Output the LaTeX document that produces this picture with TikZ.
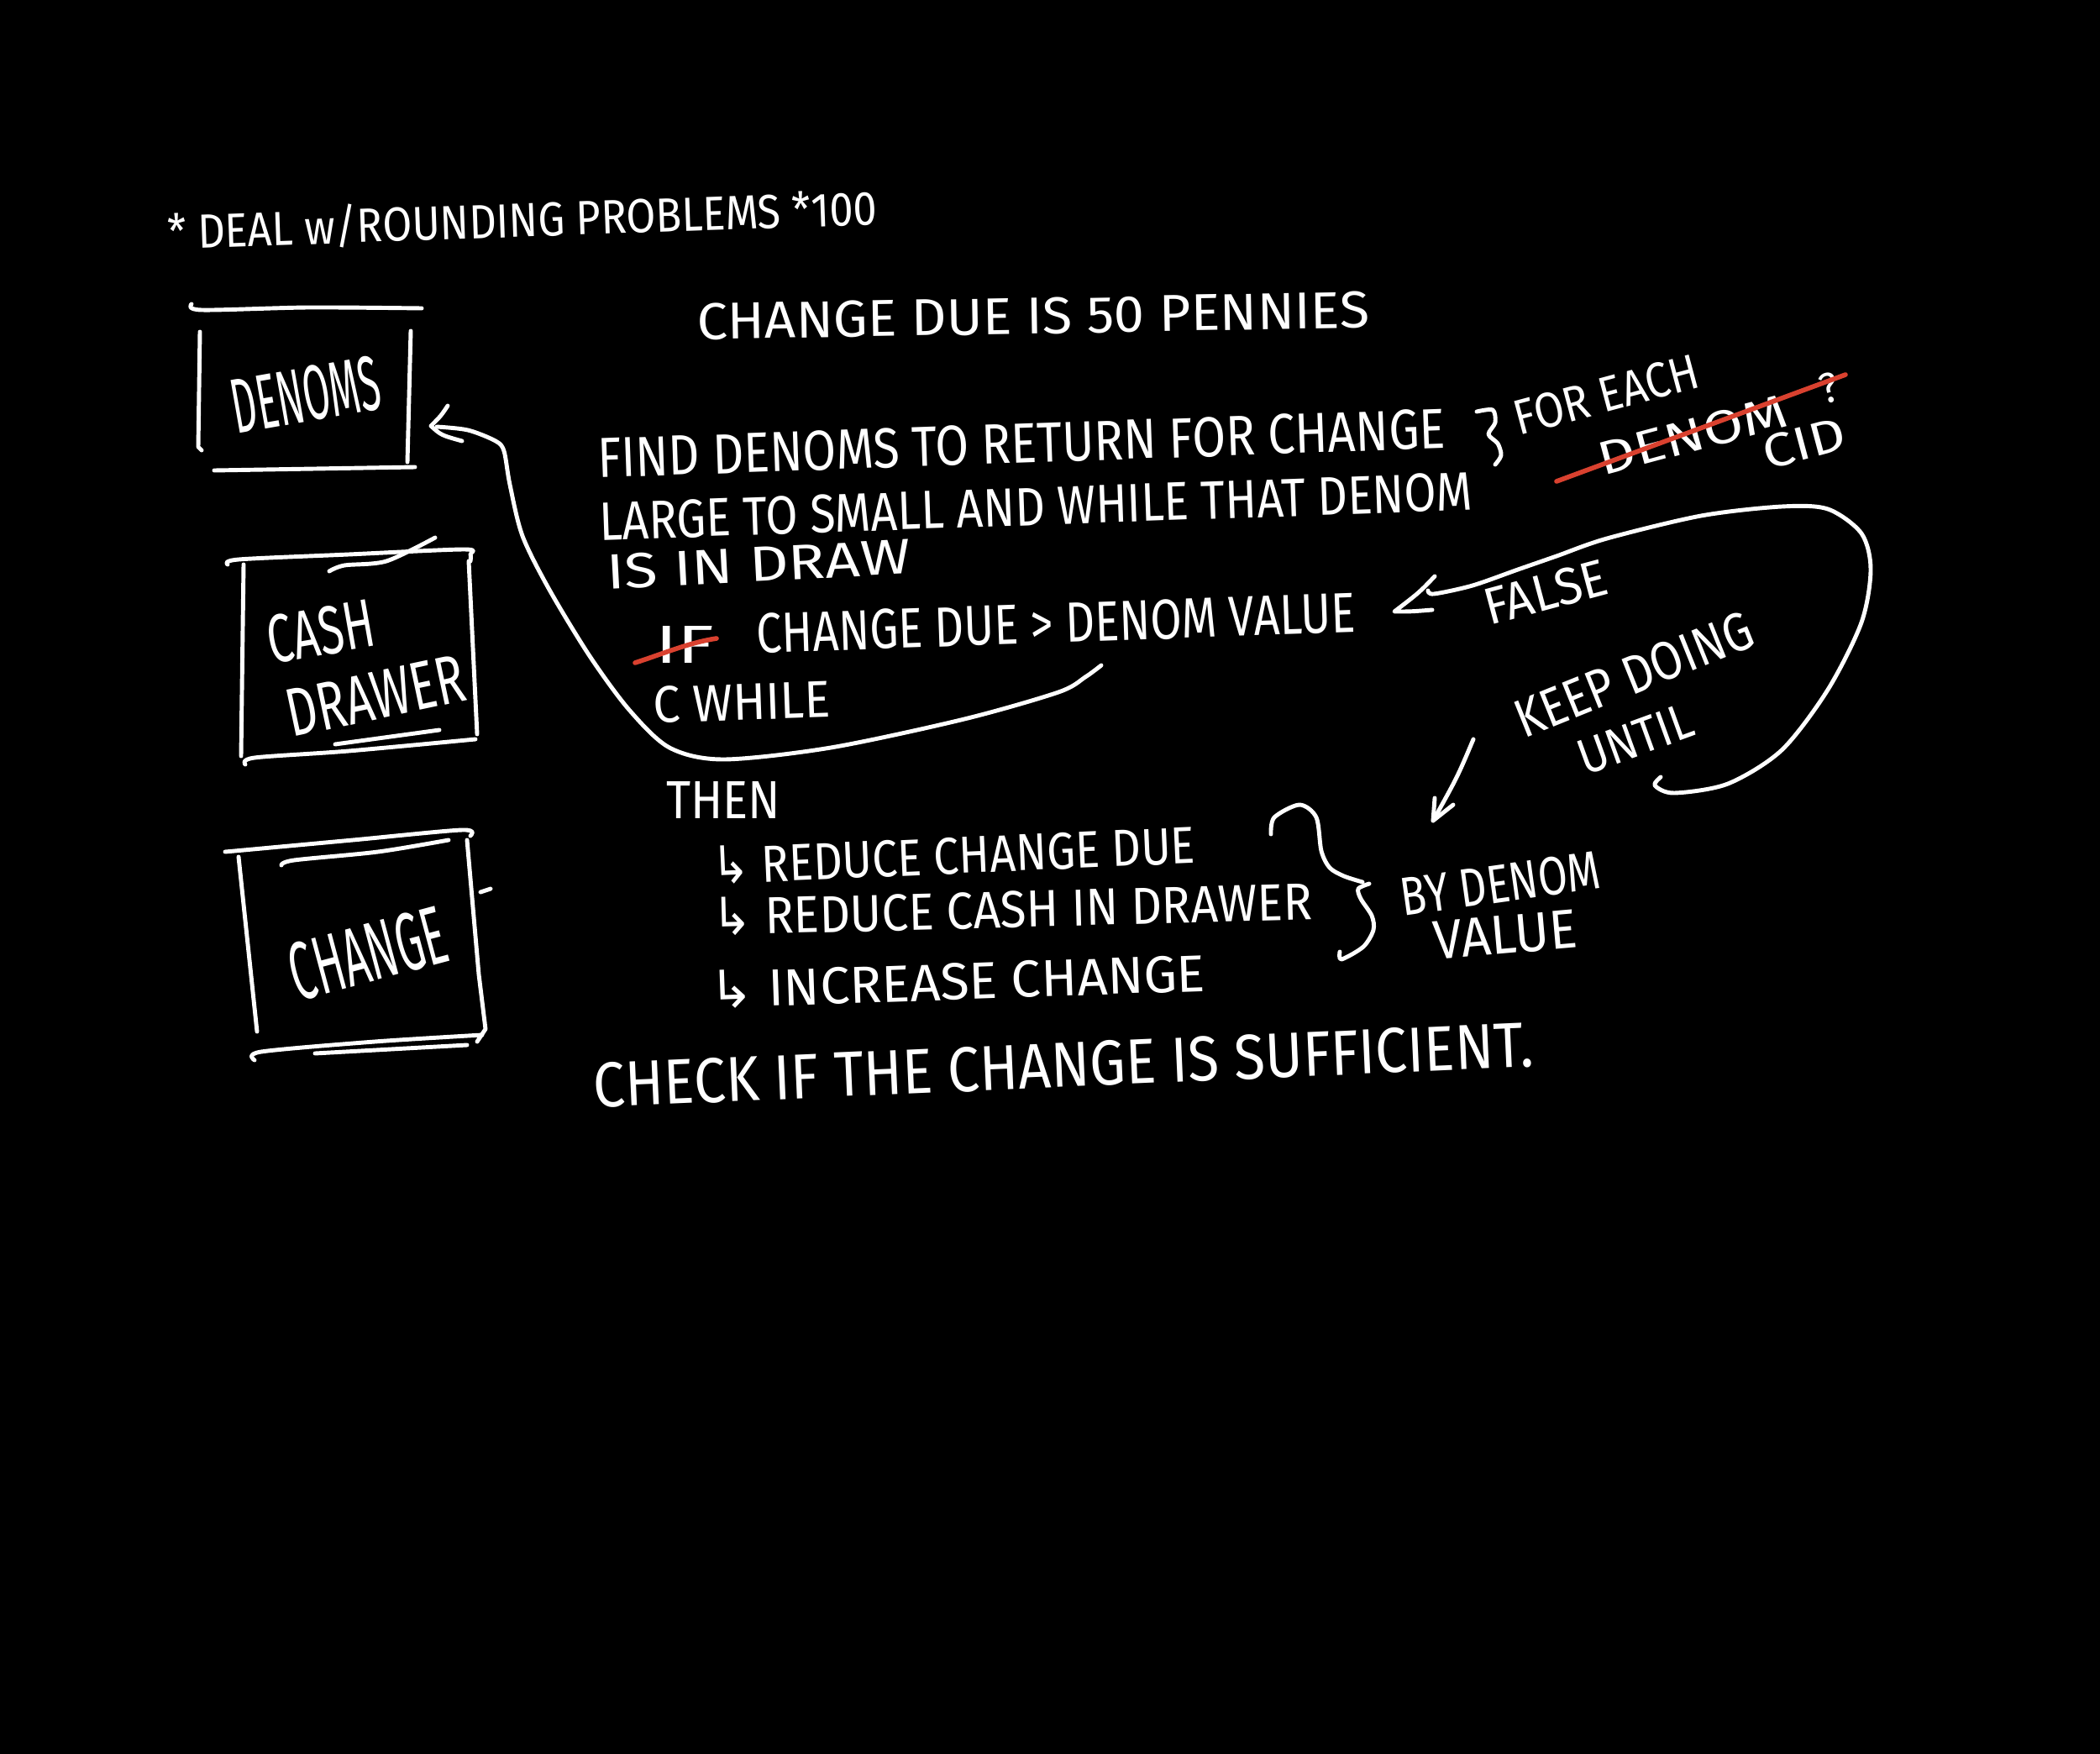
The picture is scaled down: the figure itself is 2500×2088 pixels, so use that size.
\documentclass[tikz,border=0pt]{standalone}
\usepackage{fontspec}
\setmainfont{Fira Sans}
\newfontfamily\arrowfont{DejaVu Sans}
\newlength\pxu
\setlength\pxu{0.01cm}
\newcommand\hw[3]{\resizebox*{#1\pxu}{#2\pxu}{#3}}
\newcommand\hook{{\arrowfont ↳}}
\definecolor{strikered}{HTML}{D9412F}
\begin{document}
\begin{tikzpicture}[x=0.01cm,y=-0.01cm,
  pen/.style={draw=white,line width=1.4pt,line cap=round,line join=round},
  redpen/.style={draw=strikered,line width=1.6pt,line cap=round},
  txt/.style={text=white,inner sep=0pt,outer sep=0pt}]
\fill[black] (0,0) rectangle (2500,2088);
\useasboundingbox (0,0) rectangle (2500,2088);

% ---------- texts ----------
\node[txt,rotate=2] (title) at (622,262) {\hw{845}{52}{* DEAL w/ROUNDING PROBLEMS *100}};
\node[txt,rotate=1] (due) at (1230,376) {\hw{800}{44}{CHANGE DUE IS 50 PENNIES}};
\node[txt,rotate=2] (find) at (1216,528) {\hw{1010}{48}{FIND DENOMS TO RETURN FOR CHANGE}};
\node[txt,rotate=15] (foreach) at (1912,470) {\hw{225}{42}{FOR EACH}};
\node[txt,rotate=15] (denomq) at (2015,518) {\hw{230}{40}{DENOM}};
\node[txt,rotate=15] (qmark) at (2178,462) {\hw{22}{36}{?}};
\node[txt,rotate=15] (cid) at (2148,528) {\hw{100}{40}{CID}};
\node[txt,rotate=2] (large) at (1233,603) {\hw{1040}{46}{LARGE TO SMALL AND WHILE THAT DENOM}};
\node[txt,rotate=3] (isin) at (903,672) {\hw{362}{42}{IS IN DRAW}};
\node[txt] (if) at (815,767) {\hw{70}{44}{IF}};
\node[txt,rotate=2] (cond) at (1257,742) {\hw{714}{48}{CHANGE DUE > DENOM VALUE}};
\node[txt,rotate=15] (false) at (1840,705) {\hw{150}{44}{FALSE}};
\node[txt,rotate=2] (while) at (883,836) {\hw{211}{44}{C WHILE}};
\node[txt,rotate=22] (keep) at (1945,803) {\hw{300}{46}{KEEP DOING}};
\node[txt,rotate=20] (until) at (1947,880) {\hw{142}{42}{UNTIL}};
\node[txt] (then) at (861,952) {\hw{136}{44}{THEN}};
\node[txt,rotate=2.5] (red1) at (1135,1018) {\hw{576}{46}{\hook\ REDUCE CHANGE DUE}};
\node[txt,rotate=1.5] (red2) at (1205,1082) {\hw{714}{46}{\hook\ REDUCE CASH IN DRAWER}};
\node[txt,rotate=2] (inc) at (1140,1168) {\hw{590}{46}{\hook\ INCREASE CHANGE}};
\node[txt,rotate=8] (bydenom) at (1786,1052) {\hw{239}{46}{BY DENOM}};
\node[txt,rotate=5] (value) at (1792,1113) {\hw{172}{46}{VALUE}};
\node[txt,rotate=2.5] (check) at (1266,1268) {\hw{1120}{54}{CHECK IF THE CHANGE IS SUFFICIENT.}};

% box labels
\node[txt,rotate=10] (denoms) at (364,470) {\hw{178}{66}{DENOMS}};
\node[txt,rotate=10] (cash) at (382,752) {\hw{128}{58}{CASH}};
\node[txt,rotate=12] (drawer) at (447,828) {\hw{215}{56}{DRAWER}};
\node[txt,rotate=15] (change) at (438,1135) {\hw{190}{70}{CHANGE}};

% ---------- red strikes ----------
\draw[redpen] (756,789) .. controls (790,778) and (820,765) .. (853,760);
\draw[redpen] (1853,573) -- (2197,446);

% ---------- boxes ----------
% DENOMS
\draw[pen] plot[smooth] coordinates {(228,362) (240,369) (367,366) (502,367)};
\draw[pen] (238,395) -- (236,532) -- (240,536);
\draw[pen] (489,394) -- (485,550);
\draw[pen] (255,560) -- (494,556);
% CASH DRAWER
\draw[pen] plot[smooth] coordinates {(271,672) (284,666) (415,660) (552,654) (560,660) (560,668)};
\draw[pen] plot[smooth] coordinates {(392,680) (410,673) (460,668) (518,640)};
\draw[pen] (290,672) -- (287,900);
\draw[pen] (558,668) -- (568,874);
\draw[pen] plot[smooth] coordinates {(292,910) (303,902) (415,894) (566,880)};
\draw[pen] (399,886) -- (523,869);
% CHANGE
\draw[pen] plot[smooth] coordinates {(268,1014) (290,1012) (420,1000) (550,988) (560,995)};
\draw[pen] plot[smooth] coordinates {(335,1030) (350,1024) (450,1014) (534,1000)};
\draw[pen] (284,1020) -- (306,1228);
\draw[pen] (556,1000) -- (570,1160) -- (578,1225) -- (568,1240);
\draw[pen] (572,1062) -- (584,1058);
\draw[pen] plot[smooth] coordinates {(303,1262) (311,1252) (446,1240) (574,1232)};
\draw[pen] (375,1254) -- (556,1244);

% ---------- braces ----------
\draw[pen] plot[smooth] coordinates {(1758,490) (1777,488) (1780,503) (1772,517) (1783,528) (1787,542) (1780,553)};
\draw[pen] plot[smooth] coordinates {(1513,993) (1517,973) (1547,958) (1567,973) (1573,1013) (1583,1033) (1600,1043) (1622,1050)};
\draw[pen] plot[smooth] coordinates {(1630,1052) (1617,1058) (1620,1070) (1633,1090) (1635,1107) (1623,1127) (1597,1142) (1595,1133)};

% ---------- connectors ----------
\coordinate (c1s) at (1311,792);
\coordinate (denomsR) at (513,507);
\draw[pen] plot[smooth] coordinates {(c1s) (1292,806) (1260,824) (1148,856) (989,890) (861,904) (797,890) (749,845) (702,781) (654,702) (622,638) (607,577) (600,537) (590,525) (557,512) (520,508)};
\draw[pen] (533,483) .. controls (525,495) .. (denomsR) .. controls (525,518) .. (550,525);

\coordinate (loopS) at (1977,925);
\coordinate (condR) at (1660,728);
\draw[pen] plot[smooth] coordinates {(loopS) (1970,935) (1993,944) (2057,933) (2121,893) (2176,821) (2216,741) (2227,678) (2216,635) (2176,606) (2121,603) (2025,614) (1913,641) (1853,662) (1807,678) (1753,697) (1707,707) (1700,703)};
\draw[pen] (1708,686) .. controls (1690,705) .. (condR) .. controls (1680,728) .. (1705,726);

\coordinate (keepS) at (1754,880);
\coordinate (keepE) at (1706,977);
\draw[pen] (keepS) .. controls (1735,925) .. (keepE);
\draw[pen] (1708,950) -- (keepE) -- (1730,958);
\end{tikzpicture}
\end{document}
